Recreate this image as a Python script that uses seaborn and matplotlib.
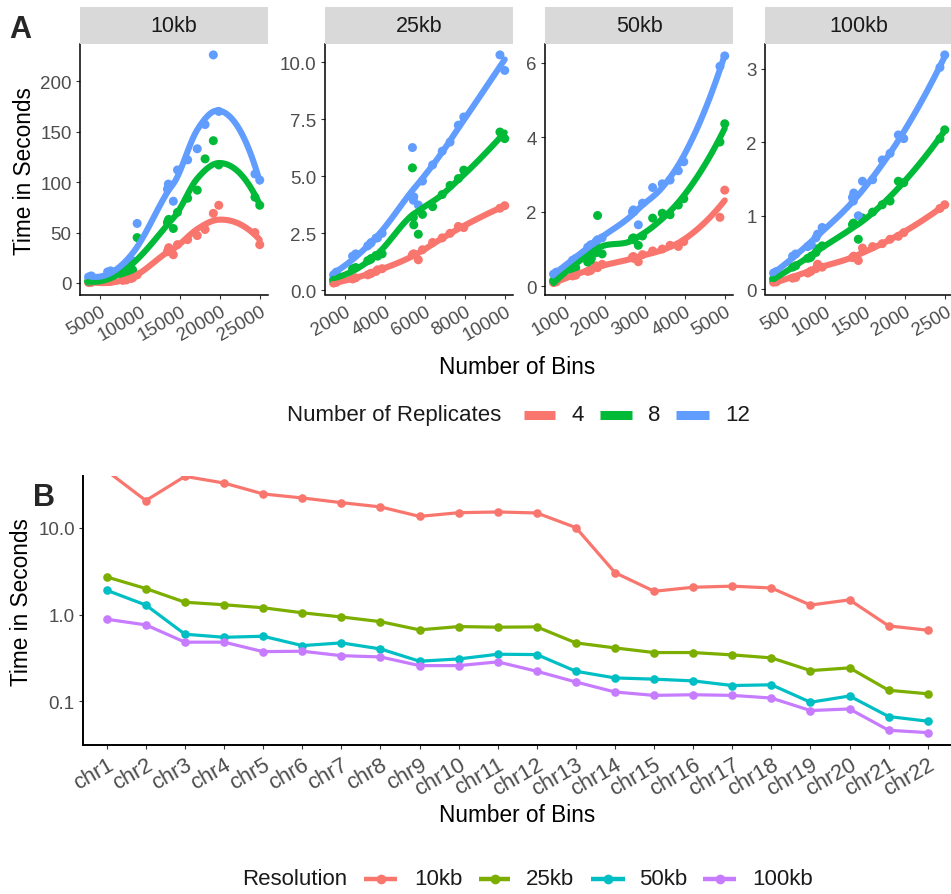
import numpy as np
import pandas as pd
import matplotlib
matplotlib.use("Agg")
import matplotlib.pyplot as plt
from matplotlib.lines import Line2D
import seaborn as sns

sns.set_theme(style="white")
plt.rcParams["font.family"] = ["Liberation Sans", "DejaVu Sans"]

# ---------------------------------------------------------------- data
chromosomes = [f"chr{i}" for i in range(1, 23)]
resolutions = ["10kb", "25kb", "50kb", "100kb"]
replicates = ["4", "8", "12"]

# number of bins per chromosome at each resolution
bins_10kb = [24920, 24320, 19800, 19120, 18090, 17110, 15910, 14640, 14120, 13550, 13500,
             13385, 9600, 8830, 8250, 9030, 8120, 7800, 5910, 6300, 3870, 3530]
bins_25kb = [9968, 9728, 7920, 7648, 7236, 6844, 6364, 5856, 5648, 5420, 5400,
             5354, 3840, 3532, 3300, 3612, 3248, 3120, 2364, 2520, 1548, 1412]
bins_50kb = [4984, 4864, 3960, 3824, 3618, 3422, 3182, 2928, 2824, 2710, 2700,
             2677, 1920, 1766, 1650, 1806, 1624, 1560, 1182, 1260, 774, 706]
bins_100kb = [2492, 2432, 1980, 1912, 1809, 1711, 1591, 1464, 1412, 1355, 1350,
              1339, 960, 883, 825, 903, 812, 780, 591, 630, 387, 353]

# run time (seconds) per chromosome, by resolution and number of replicates
secs_10kb_rep4 = [38, 50, 77, 69, 53, 47, 43, 38, 28, 35, 33, 31, 8, 4.5, 3, 5, 4.3, 2.6, 1.5, 1.8, 0.6, 0.5]
secs_10kb_rep8 = [77, 85, 117, 141, 123, 92, 84, 70, 54, 63, 62, 60, 45, 12, 9, 13, 10, 8, 4, 5, 2, 1.8]
secs_10kb_rep12 = [102, 108, 170, 226, 157, 133, 122, 112, 81, 95, 98, 93, 59, 20, 17, 22, 18, 15, 11, 12, 7, 6]

secs_25kb_rep4 = [3.71, 3.6, 2.75, 2.8, 2.5, 2.3, 2.1, 1.78, 1.34, 1.6, 1.58, 1.56, 0.95, 0.83, 0.75,
                  0.9, 0.73, 0.68, 0.5, 0.55, 0.35, 0.32]
secs_25kb_rep8 = [6.65, 6.94, 5.27, 4.9, 4.6, 4.2, 3.67, 3.33, 2.46, 2.87, 3.2, 5.37, 1.6, 1.53, 1.4,
                  1.5, 1.35, 1.3, 0.95, 1.0, 0.55, 0.47]
secs_25kb_rep12 = [9.64, 10.32, 7.6, 7.24, 6.5, 6.1, 5.5, 4.79, 3.74, 4.1, 3.95, 6.26, 2.5, 2.29, 2.1,
                   2.3, 2.05, 1.95, 1.5, 1.6, 0.8, 0.68]

secs_50kb_rep4 = [2.58, 1.85, 1.2, 1.07, 1.1, 1.0, 0.95, 0.85, 0.66, 0.75, 0.8, 0.78, 0.59, 0.55, 0.45,
                  0.5, 0.42, 0.4, 0.28, 0.3, 0.12, 0.1]
secs_50kb_rep8 = [4.36, 3.87, 2.35, 2.18, 1.92, 1.96, 1.83, 1.35, 1.1, 1.25, 1.3, 1.28, 0.87, 0.9, 0.75,
                  1.9, 0.7, 0.65, 0.45, 0.5, 0.2, 0.15]
secs_50kb_rep12 = [6.18, 5.9, 3.34, 3.1, 2.85, 2.75, 2.65, 2.23, 1.65, 2.0, 2.05, 2.0, 1.3, 1.2, 1.12,
                   1.25, 1.1, 1.05, 0.7, 0.75, 0.38, 0.33]

secs_100kb_rep4 = [1.15, 1.1, 0.77, 0.72, 0.68, 0.62, 0.58, 0.56, 0.39, 0.45, 0.44, 0.43, 0.3, 0.28, 0.25,
                   0.34, 0.24, 0.22, 0.15, 0.16, 0.1, 0.095]
secs_100kb_rep8 = [2.17, 2.05, 1.45, 1.47, 1.2, 1.15, 1.05, 0.97, 0.68, 0.89, 0.9, 0.88, 0.59, 0.5, 0.45,
                   0.55, 0.43, 0.42, 0.3, 0.32, 0.16, 0.14]
secs_100kb_rep12 = [3.19, 3.02, 2.05, 2.1, 1.85, 1.76, 1.49, 1.47, 1.0, 1.31, 1.2, 1.25, 0.84, 0.7, 0.61,
                    0.75, 0.6, 0.58, 0.45, 0.48, 0.24, 0.22]

# per-chromosome run time by resolution (panel B)
chrom_secs_10kb = [45.6, 20.7, 39.4, 33.0, 24.7, 22.2, 19.6, 17.5, 13.6, 15.0, 15.3, 14.9, 10.1, 3.05,
                   1.86, 2.07, 2.13, 2.03, 1.29, 1.48, 0.741, 0.661]
chrom_secs_25kb = [2.72, 2.00, 1.39, 1.30, 1.20, 1.05, 0.94, 0.83, 0.667, 0.728, 0.716, 0.722, 0.472,
                   0.413, 0.365, 0.365, 0.343, 0.317, 0.226, 0.243, 0.134, 0.122]
chrom_secs_50kb = [1.91, 1.29, 0.594, 0.548, 0.563, 0.439, 0.472, 0.402, 0.290, 0.308, 0.349, 0.346,
                   0.222, 0.186, 0.180, 0.172, 0.152, 0.155, 0.0975, 0.115, 0.0667, 0.0589]
chrom_secs_100kb = [0.885, 0.761, 0.481, 0.481, 0.374, 0.378, 0.336, 0.325, 0.258, 0.258, 0.285, 0.222,
                    0.167, 0.128, 0.117, 0.119, 0.117, 0.109, 0.0782, 0.0816, 0.0463, 0.0435]

rep_colors = ["#F8766D", "#00BA38", "#619CFF"]
res_colors = ["#F8766D", "#7CAE00", "#00BFC4", "#C77CFF"]

bins_by_res = {"10kb": bins_10kb, "25kb": bins_25kb, "50kb": bins_50kb, "100kb": bins_100kb}
secs_by_res = {
    "10kb": [secs_10kb_rep4, secs_10kb_rep8, secs_10kb_rep12],
    "25kb": [secs_25kb_rep4, secs_25kb_rep8, secs_25kb_rep12],
    "50kb": [secs_50kb_rep4, secs_50kb_rep8, secs_50kb_rep12],
    "100kb": [secs_100kb_rep4, secs_100kb_rep8, secs_100kb_rep12],
}
rows = []
for res in resolutions:
    for rep, vals in zip(replicates, secs_by_res[res]):
        for chrom, b, v in zip(chromosomes, bins_by_res[res], vals):
            rows.append((res, rep, chrom, b, v))
df_a = pd.DataFrame(rows, columns=["resolution", "replicates", "chrom", "bins", "time"])

chrom_secs = [chrom_secs_10kb, chrom_secs_25kb, chrom_secs_50kb, chrom_secs_100kb]
df_b = pd.DataFrame(
    [(res, i, c, v) for res, vals in zip(resolutions, chrom_secs)
     for i, (c, v) in enumerate(zip(chromosomes, vals))],
    columns=["resolution", "pos", "chrom", "time"])


# ---------------------------------------------------------------- loess smoother
def _local_fit(x, y, g, q):
    """Tricube-weighted local quadratic at g; returns value and slope."""
    d = np.abs(x - g)
    h = np.sort(d)[q - 1]
    w = np.clip(1 - (d / h) ** 3, 0, None) ** 3
    dx = (x - g) / h
    X = np.column_stack([np.ones(len(x)), dx, dx ** 2])
    sw = np.sqrt(w)
    beta = np.linalg.lstsq(X * sw[:, None], y * sw, rcond=None)[0]
    return beta[0], beta[1] / h


def _split_vertices(pts, fc):
    pts = np.sort(pts)
    m = len(pts)
    if m <= fc:
        return []
    v = pts[m // 2] if m % 2 else 0.5 * (pts[m // 2 - 1] + pts[m // 2])
    left, right = pts[pts <= v], pts[pts > v]
    if len(left) == m or len(right) == m:
        return []
    return _split_vertices(left, fc) + [v] + _split_vertices(right, fc)


def loess(x, y, grid, span=0.75, cell=0.2):
    """Loess with kd-tree vertices and cubic Hermite interpolation between them."""
    x = np.asarray(x, float)
    y = np.asarray(y, float)
    n = len(x)
    q = int(np.floor(n * span))
    fc = int(np.floor(n * span * cell))
    lo, hi = x.min(), x.max()
    margin = 0.005 * (hi - lo)
    verts = np.array([lo - margin] + _split_vertices(x, fc) + [hi + margin])
    vals, slopes = zip(*[_local_fit(x, y, v, q) for v in verts])
    vals, slopes = np.array(vals), np.array(slopes)
    out = []
    for g in grid:
        i = int(np.clip(np.searchsorted(verts, g) - 1, 0, len(verts) - 2))
        x0, x1 = verts[i], verts[i + 1]
        hseg = x1 - x0
        t = (g - x0) / hseg
        h00 = 2 * t ** 3 - 3 * t ** 2 + 1
        h10 = t ** 3 - 2 * t ** 2 + t
        h01 = -2 * t ** 3 + 3 * t ** 2
        h11 = t ** 3 - t ** 2
        out.append(h00 * vals[i] + h10 * hseg * slopes[i] + h01 * vals[i + 1] + h11 * hseg * slopes[i + 1])
    return np.array(out)


# ---------------------------------------------------------------- figure
W, H = 951, 895
fig = plt.figure(figsize=(W / 100, H / 100), dpi=100)


def px_axes(x0, y0, x1, y1):
    return fig.add_axes([x0 / W, 1 - y1 / H, (x1 - x0) / W, (y1 - y0) / H])


def fx(x):
    return x / W


def fy(y):
    return 1 - y / H


TEXT = "#1A1A1A"
TICKTXT = "#4D4D4D"


def style_axes(ax, labelsize):
    for side in ("top", "right"):
        ax.spines[side].set_visible(False)
    for side in ("left", "bottom"):
        ax.spines[side].set_color("black")
        ax.spines[side].set_linewidth(1.1)
    ax.tick_params(axis="both", which="major", length=2.9, width=0.8, color="#333333",
                   labelsize=labelsize, labelcolor=TICKTXT, pad=3.2,
                   bottom=True, left=True)
    ax.tick_params(axis="both", which="minor", length=0)
    ax.grid(False)
    ax.set_facecolor("white")
    ax.set_xlabel("")
    ax.set_ylabel("")


# ---- panel A: facets by resolution
facet_left = [80, 325, 545, 765]
facet_width = 188.3
panel_top, panel_bottom = 44.5, 295.5
strip_top = 8.3
xticks_by_res = {
    "10kb": [5000, 10000, 15000, 20000, 25000],
    "25kb": [2000, 4000, 6000, 8000, 10000],
    "50kb": [1000, 2000, 3000, 4000, 5000],
    "100kb": [500, 1000, 1500, 2000, 2500],
}
yticks_by_res = {
    "10kb": ([0, 50, 100, 150, 200], ["0", "50", "100", "150", "200"]),
    "25kb": ([0, 2.5, 5, 7.5, 10], ["0.0", "2.5", "5.0", "7.5", "10.0"]),
    "50kb": ([0, 2, 4, 6], ["0", "2", "4", "6"]),
    "100kb": ([0, 1, 2, 3], ["0", "1", "2", "3"]),
}

for res, left in zip(resolutions, facet_left):
    ax = px_axes(left, panel_top, left + facet_width, panel_bottom)
    sub = df_a[df_a.resolution == res]

    smooth_rows = []
    for rep in replicates:
        g = sub[sub.replicates == rep]
        grid = np.linspace(g.bins.min(), g.bins.max(), 80)
        for gx, gy in zip(grid, loess(g.bins, g.time, grid)):
            smooth_rows.append((rep, gx, gy))
    smooth = pd.DataFrame(smooth_rows, columns=["replicates", "bins", "time"])

    sns.scatterplot(data=sub, x="bins", y="time", hue="replicates", hue_order=replicates,
                    palette=rep_colors, s=42, linewidth=0, legend=False, ax=ax, zorder=2)
    sns.lineplot(data=smooth, x="bins", y="time", hue="replicates", hue_order=replicates,
                 palette=rep_colors, linewidth=4.4, estimator=None, sort=False,
                 legend=False, ax=ax, zorder=3)

    xmin, xmax = sub.bins.min(), sub.bins.max()
    xr = xmax - xmin
    ax.set_xlim(xmin - 0.05 * xr, xmax + 0.05 * xr)
    ymin = min(sub.time.min(), smooth.time.min())
    ymax = max(sub.time.max(), smooth.time.max())
    yr = ymax - ymin
    ax.set_ylim(ymin - 0.05 * yr, ymax + 0.05 * yr)

    style_axes(ax, 13.5)
    ax.set_xticks(xticks_by_res[res])
    ax.set_xticklabels([str(t) for t in xticks_by_res[res]])
    yt, yl = yticks_by_res[res]
    ax.set_yticks(yt)
    ax.set_yticklabels(yl)
    plt.setp(ax.get_xticklabels(), rotation=30, ha="right", va="top", rotation_mode="anchor")

    strip = px_axes(left, strip_top, left + facet_width, panel_top)
    strip.set_facecolor("#D9D9D9")
    for s in strip.spines.values():
        s.set_visible(False)
    strip.set_xticks([])
    strip.set_yticks([])
    strip.text(0.5, 0.5, res, ha="center", va="center", fontsize=15.5, color=TEXT,
               transform=strip.transAxes)

fig.text(fx(24.5), fy(171), "Time in Seconds", rotation=90, ha="center", va="center",
         fontsize=16.3, color="black")
fig.text(fx(517), fy(368), "Number of Bins", ha="center", va="center", fontsize=16.3, color="black")
fig.text(fx(9), fy(38), "A", fontsize=22, fontweight="bold", ha="left", va="baseline")

# legend for panel A
leg_y = 416
fig.text(fx(287.4), fy(leg_y), "Number of Replicates", ha="left", va="center", fontsize=16, color=TEXT)
for (k0, k1, lx), col, lab in zip([(523.6, 555.2, 571), (599.7, 632, 648), (676, 708.5, 725)],
                                  rep_colors, replicates):
    fig.add_artist(Line2D([fx(k0), fx(k1)], [fy(leg_y), fy(leg_y)], color=col, linewidth=6.5,
                          solid_capstyle="butt", transform=fig.transFigure))
    fig.add_artist(Line2D([fx((k0 + k1) / 2)], [fy(leg_y)], color=col, marker="o", markersize=5.5,
                          markeredgewidth=0, transform=fig.transFigure))
    fig.text(fx(lx), fy(leg_y), lab, ha="left", va="center", fontsize=16, color=TEXT)

# ---- panel B: run time per chromosome
axb = px_axes(83.3, 476.7, 951.2, 746)
sns.lineplot(data=df_b, x="pos", y="time", hue="resolution", hue_order=resolutions,
             palette=res_colors, linewidth=2.3, marker="o", markersize=6.2, markeredgewidth=0,
             estimator=None, sort=False, legend=False, ax=axb)
axb.set_yscale("log")
axb.set_ylim(0.0313, 40.1)
axb.set_xlim(-0.6, len(chromosomes) - 1 + 0.6)
style_axes(axb, 13.5)
axb.spines["left"].set_linewidth(1.4)
axb.spines["bottom"].set_linewidth(1.4)
axb.set_yticks([0.1, 1, 10])
axb.set_yticklabels(["0.1", "1.0", "10.0"])
axb.yaxis.set_minor_locator(matplotlib.ticker.NullLocator())
axb.set_xticks(range(len(chromosomes)))
axb.set_xticklabels(chromosomes)
plt.setp(axb.get_xticklabels(), rotation=30, ha="right", va="top", rotation_mode="anchor",
         fontsize=15.8)

fig.text(fx(22), fy(602), "Time in Seconds", rotation=90, ha="center", va="center",
         fontsize=16.3, color="black")
fig.text(fx(517), fy(816), "Number of Bins", ha="center", va="center", fontsize=16.3, color="black")
fig.text(fx(33), fy(506), "B", fontsize=22, fontweight="bold", ha="left", va="baseline")

# legend for panel B
leg_y = 880
fig.text(fx(242.6), fy(leg_y), "Resolution", ha="left", va="center", fontsize=16, color=TEXT)
for (k0, k1, lx), col, lab in zip([(364, 397, 414), (479, 510, 526), (591, 625, 639), (703, 736, 752)],
                                  res_colors, resolutions):
    fig.add_artist(Line2D([fx(k0), fx(k1)], [fy(leg_y), fy(leg_y)], color=col, linewidth=3.2,
                          solid_capstyle="butt", transform=fig.transFigure))
    fig.add_artist(Line2D([fx((k0 + k1) / 2)], [fy(leg_y)], color=col, marker="o", markersize=7,
                          markeredgewidth=0, transform=fig.transFigure))
    fig.text(fx(lx), fy(leg_y), lab, ha="left", va="center", fontsize=16, color=TEXT)

fig.savefig("out.png", dpi=100, facecolor="white")
